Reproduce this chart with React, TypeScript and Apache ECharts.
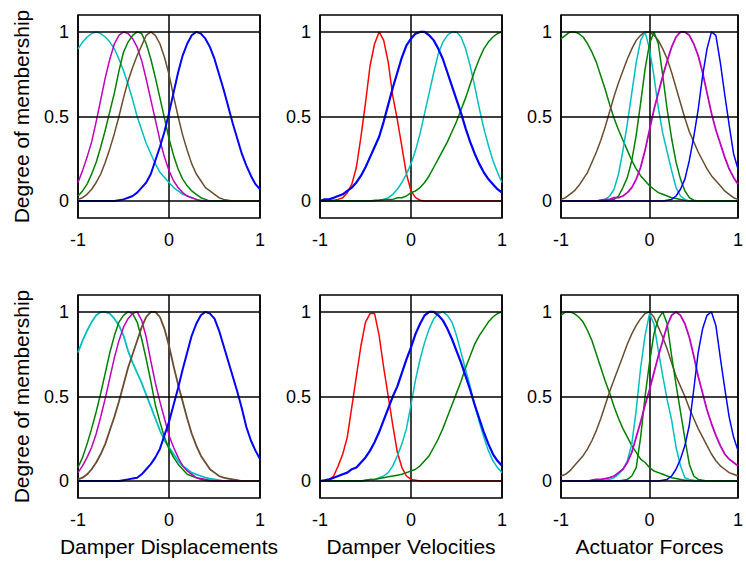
import React, { useEffect, useRef } from "react";
import * as echarts from "echarts";

// x sample points (shared by all curves)
const X = [
  -1, -0.95, -0.9, -0.85, -0.8, -0.75, -0.7, -0.65, -0.6, -0.55,
  -0.5, -0.45, -0.4, -0.35, -0.3, -0.25, -0.2, -0.15, -0.1, -0.05,
  0, 0.05, 0.1, 0.15, 0.2, 0.25, 0.3, 0.35, 0.4, 0.45,
  0.5, 0.55, 0.6, 0.65, 0.7, 0.75, 0.8, 0.85, 0.9, 0.95, 1,
];

const X_TICKS = [-1, 0, 1];
const Y_TICKS = [0, 0.5, 1];
const X_NAMES = ["Damper Displacements", "Damper Velocities", "Actuator Forces"];
const Y_NAME = "Degree of membership";

// ---- Panel 1 (top, Damper Displacements)
const P1_CYAN = [0.90,0.94,0.97,0.99,1.0,0.99,0.97,0.94,0.90,0.84,0.77,0.69,0.60,0.50,0.42,0.34,0.28,0.22,0.17,0.14,0.11,0.08,0.06,0.04,0.03,0.02,0.01,0.005,0,0,0,0,0,0,0,0,0,0,0,0,0];
const P1_MAGENTA = [0.11,0.18,0.26,0.35,0.47,0.60,0.73,0.84,0.93,0.98,1.0,0.99,0.96,0.91,0.83,0.72,0.60,0.48,0.36,0.26,0.18,0.12,0.08,0.05,0.03,0.02,0.01,0,0,0,0,0,0,0,0,0,0,0,0,0,0];
const P1_GREEN = [0.03,0.06,0.10,0.16,0.23,0.32,0.42,0.53,0.64,0.77,0.88,0.94,0.98,1.0,0.99,0.93,0.84,0.73,0.61,0.49,0.37,0.27,0.19,0.13,0.09,0.06,0.04,0.02,0.01,0,0,0,0,0,0,0,0,0,0,0,0];
const P1_BROWN = [0.01,0.02,0.04,0.07,0.11,0.16,0.23,0.31,0.40,0.50,0.61,0.71,0.79,0.86,0.92,0.98,1.0,0.98,0.93,0.85,0.75,0.62,0.50,0.39,0.30,0.22,0.16,0.12,0.08,0.06,0.04,0.02,0.01,0.005,0,0,0,0,0,0,0];
const P1_BLUE = [0,0,0,0,0,0,0,0,0,0.005,0.01,0.02,0.03,0.05,0.08,0.11,0.16,0.24,0.32,0.41,0.52,0.64,0.76,0.86,0.93,0.98,1.0,0.99,0.96,0.91,0.84,0.75,0.66,0.56,0.46,0.37,0.28,0.21,0.15,0.10,0.07];

// ---- Panel 2 (top, Damper Velocities)
const P2_RED = [0,0,0,0.005,0.01,0.02,0.05,0.10,0.20,0.38,0.58,0.80,0.93,1.0,0.95,0.82,0.62,0.48,0.32,0.16,0.06,0.02,0.005,0,0,0,0,0,0,0,0,0,0,0,0,0,0,0,0,0,0];
const P2_BLUE = [0.0,0.01,0.01,0.02,0.03,0.04,0.06,0.08,0.11,0.15,0.20,0.26,0.32,0.38,0.47,0.57,0.67,0.76,0.85,0.92,0.96,0.99,1.0,1.0,0.98,0.95,0.90,0.84,0.76,0.68,0.60,0.52,0.43,0.35,0.28,0.22,0.17,0.13,0.10,0.07,0.05];
const P2_CYAN = [0,0,0,0,0,0,0,0,0,0,0,0,0,0.005,0.01,0.02,0.04,0.07,0.11,0.16,0.22,0.30,0.40,0.52,0.64,0.76,0.87,0.94,0.98,1.0,1.0,0.97,0.90,0.80,0.68,0.55,0.43,0.33,0.24,0.17,0.11];
const P2_GREEN = [0,0,0,0,0,0,0,0,0,0,0,0,0.005,0.005,0.01,0.01,0.01,0.02,0.02,0.03,0.05,0.06,0.08,0.11,0.15,0.20,0.25,0.30,0.35,0.41,0.47,0.54,0.61,0.69,0.77,0.84,0.90,0.94,0.97,0.99,1.0];

// ---- Panel 3 (top, Actuator Forces)
const P3_GREEN_A = [0.96,0.98,1.0,1.0,0.99,0.97,0.93,0.88,0.82,0.74,0.66,0.57,0.49,0.42,0.36,0.30,0.24,0.19,0.15,0.12,0.09,0.07,0.05,0.04,0.03,0.02,0.015,0.01,0.005,0,0,0,0,0,0,0,0,0,0,0,0];
const P3_BROWN = [0.01,0.02,0.04,0.06,0.09,0.13,0.17,0.23,0.29,0.36,0.44,0.53,0.62,0.70,0.77,0.84,0.90,0.95,0.98,1.0,1.0,0.98,0.95,0.90,0.84,0.76,0.67,0.58,0.49,0.41,0.35,0.29,0.24,0.19,0.15,0.12,0.09,0.06,0.04,0.02,0.01];
const P3_CYAN = [0,0,0,0,0,0,0,0,0,0.005,0.01,0.03,0.07,0.16,0.30,0.46,0.64,0.82,0.95,1.0,0.90,0.74,0.55,0.40,0.29,0.18,0.08,0.03,0.01,0,0,0,0,0,0,0,0,0,0,0,0];
const P3_GREEN_B = [0,0,0,0,0,0,0,0,0,0,0,0.005,0.01,0.03,0.08,0.14,0.24,0.39,0.58,0.78,0.93,1.0,0.93,0.74,0.54,0.37,0.23,0.13,0.06,0.02,0.005,0,0,0,0,0,0,0,0,0,0];
const P3_MAGENTA = [0,0,0,0,0,0,0,0,0,0.005,0.01,0.01,0.02,0.02,0.03,0.05,0.08,0.13,0.20,0.30,0.42,0.54,0.64,0.74,0.83,0.91,0.97,1.0,1.0,0.98,0.93,0.86,0.76,0.64,0.52,0.42,0.34,0.26,0.19,0.14,0.10];
const P3_BLUE = [0,0,0,0,0,0,0,0,0,0,0,0,0,0,0,0,0,0,0,0,0,0,0,0,0.005,0.01,0.03,0.07,0.13,0.24,0.38,0.54,0.74,0.90,1.0,0.98,0.82,0.63,0.45,0.28,0.19];

// ---- Panel 4 (bottom, Damper Displacements)
const P4_CYAN = [0.76,0.83,0.89,0.94,0.98,1.0,1.0,0.99,0.96,0.92,0.86,0.77,0.70,0.64,0.58,0.51,0.44,0.37,0.30,0.24,0.20,0.16,0.12,0.09,0.07,0.05,0.04,0.03,0.02,0.015,0.01,0.005,0,0,0,0,0,0,0,0,0];
const P4_GREEN = [0.08,0.14,0.22,0.31,0.41,0.52,0.64,0.76,0.86,0.94,0.98,1.0,0.99,0.94,0.84,0.72,0.59,0.45,0.35,0.26,0.19,0.14,0.10,0.07,0.04,0.03,0.02,0.01,0.005,0,0,0,0,0,0,0,0,0,0,0,0];
const P4_MAGENTA = [0.05,0.09,0.14,0.20,0.28,0.38,0.49,0.61,0.73,0.83,0.91,0.96,0.99,1.0,0.95,0.85,0.71,0.58,0.47,0.37,0.27,0.20,0.14,0.09,0.06,0.04,0.02,0.015,0.01,0.005,0,0,0,0,0,0,0,0,0,0,0];
const P4_BROWN = [0.01,0.02,0.04,0.07,0.11,0.16,0.22,0.30,0.38,0.47,0.57,0.67,0.75,0.83,0.91,0.97,1.0,1.0,0.97,0.90,0.80,0.68,0.57,0.47,0.37,0.28,0.21,0.15,0.11,0.07,0.05,0.03,0.02,0.015,0.01,0.005,0,0,0,0,0];
const P4_BLUE = [0,0,0,0,0,0,0,0,0,0,0.005,0.01,0.015,0.02,0.04,0.07,0.10,0.14,0.19,0.27,0.35,0.45,0.55,0.66,0.76,0.86,0.93,0.98,1.0,0.99,0.96,0.89,0.80,0.71,0.62,0.53,0.43,0.32,0.24,0.18,0.13];

// ---- Panel 5 (bottom, Damper Velocities)
const P5_RED = [0,0,0.005,0.03,0.09,0.16,0.26,0.44,0.62,0.80,0.94,0.99,0.99,0.86,0.67,0.50,0.33,0.17,0.08,0.03,0.01,0.005,0,0,0,0,0,0,0,0,0,0,0,0,0,0,0,0,0,0,0];
const P5_BLUE = [0.0,0.005,0.01,0.02,0.03,0.04,0.05,0.07,0.08,0.11,0.14,0.18,0.23,0.29,0.36,0.43,0.50,0.56,0.64,0.72,0.79,0.87,0.93,0.98,1.0,1.0,0.98,0.95,0.90,0.84,0.77,0.70,0.62,0.54,0.45,0.37,0.29,0.22,0.16,0.12,0.09];
const P5_CYAN = [0,0,0,0,0,0,0,0,0,0,0.005,0.01,0.01,0.02,0.03,0.05,0.09,0.15,0.22,0.31,0.45,0.60,0.72,0.82,0.90,0.96,0.99,1.0,0.98,0.94,0.86,0.76,0.66,0.56,0.45,0.35,0.26,0.18,0.12,0.08,0.05];
const P5_GREEN = [0,0,0,0,0,0,0,0,0,0,0.005,0.01,0.01,0.015,0.02,0.025,0.03,0.035,0.04,0.05,0.06,0.07,0.09,0.12,0.15,0.20,0.25,0.31,0.38,0.45,0.52,0.59,0.67,0.74,0.81,0.86,0.90,0.94,0.97,0.99,1.0];

// ---- Panel 6 (bottom, Actuator Forces)
const P6_GREEN_A = [0.98,1.0,1.0,0.99,0.97,0.94,0.89,0.83,0.75,0.67,0.59,0.52,0.44,0.37,0.31,0.26,0.21,0.17,0.13,0.11,0.08,0.06,0.05,0.04,0.03,0.02,0.015,0.01,0.005,0.005,0,0,0,0,0,0,0,0,0,0,0];
const P6_BROWN = [0.03,0.04,0.06,0.09,0.12,0.15,0.19,0.24,0.30,0.37,0.45,0.53,0.60,0.67,0.74,0.81,0.87,0.92,0.96,0.99,1.0,0.97,0.91,0.85,0.78,0.70,0.62,0.56,0.50,0.43,0.37,0.31,0.26,0.21,0.16,0.12,0.09,0.07,0.05,0.04,0.03];
const P6_CYAN = [0,0,0,0,0,0,0,0,0,0,0.005,0.01,0.02,0.04,0.07,0.12,0.22,0.42,0.67,0.86,0.99,0.93,0.77,0.62,0.48,0.36,0.20,0.09,0.02,0.01,0.005,0,0,0,0,0,0,0,0,0,0];
const P6_GREEN_B = [0,0,0,0,0,0,0,0,0,0,0,0,0,0,0.005,0.01,0.03,0.08,0.26,0.50,0.70,0.87,0.96,1.0,0.93,0.74,0.57,0.41,0.25,0.10,0.03,0.01,0.005,0,0,0,0,0,0,0,0];
const P6_MAGENTA = [0,0,0,0,0,0,0,0.005,0.01,0.01,0.015,0.02,0.03,0.05,0.07,0.11,0.17,0.26,0.35,0.45,0.54,0.64,0.74,0.83,0.92,0.98,1.0,0.98,0.93,0.85,0.74,0.62,0.52,0.42,0.34,0.27,0.21,0.16,0.13,0.11,0.09];
const P6_BLUE = [0,0,0,0,0,0,0,0,0,0,0,0,0,0,0,0,0,0,0,0,0,0,0,0.005,0.01,0.03,0.07,0.13,0.21,0.33,0.54,0.76,0.90,0.98,1.0,0.92,0.73,0.55,0.38,0.26,0.18];

const CYAN = "#00bfbf";
const MAGENTA = "#bf00bf";
const GREEN = "#008000";
const BROWN = "#6b4c2e";
const BLUE = "#0000ff";
const RED = "#ff0000";

type Curve = { data: number[]; color: string; width: number };

const PANELS: Curve[][] = [
  [
    { data: P1_CYAN, color: CYAN, width: 1.5 },
    { data: P1_MAGENTA, color: MAGENTA, width: 1.5 },
    { data: P1_GREEN, color: GREEN, width: 1.5 },
    { data: P1_BROWN, color: BROWN, width: 1.5 },
    { data: P1_BLUE, color: BLUE, width: 2 },
  ],
  [
    { data: P2_RED, color: RED, width: 1.5 },
    { data: P2_CYAN, color: CYAN, width: 1.5 },
    { data: P2_GREEN, color: GREEN, width: 1.5 },
    { data: P2_BLUE, color: BLUE, width: 2.2 },
  ],
  [
    { data: P3_GREEN_A, color: GREEN, width: 1.5 },
    { data: P3_BROWN, color: BROWN, width: 1.5 },
    { data: P3_CYAN, color: CYAN, width: 1.5 },
    { data: P3_GREEN_B, color: GREEN, width: 1.5 },
    { data: P3_MAGENTA, color: MAGENTA, width: 1.8 },
    { data: P3_BLUE, color: BLUE, width: 1.5 },
  ],
  [
    { data: P4_CYAN, color: CYAN, width: 1.8 },
    { data: P4_GREEN, color: GREEN, width: 1.5 },
    { data: P4_MAGENTA, color: MAGENTA, width: 1.5 },
    { data: P4_BROWN, color: BROWN, width: 1.8 },
    { data: P4_BLUE, color: BLUE, width: 2 },
  ],
  [
    { data: P5_RED, color: RED, width: 1.5 },
    { data: P5_CYAN, color: CYAN, width: 1.5 },
    { data: P5_GREEN, color: GREEN, width: 1.5 },
    { data: P5_BLUE, color: BLUE, width: 2.2 },
  ],
  [
    { data: P6_GREEN_A, color: GREEN, width: 1.5 },
    { data: P6_BROWN, color: BROWN, width: 1.5 },
    { data: P6_CYAN, color: CYAN, width: 1.5 },
    { data: P6_GREEN_B, color: GREEN, width: 1.5 },
    { data: P6_MAGENTA, color: MAGENTA, width: 1.8 },
    { data: P6_BLUE, color: BLUE, width: 1.5 },
  ],
];

const FONT = "'Liberation Sans', Arial, sans-serif";
const COL_LEFT = [78, 320, 561];
const COL_WIDTH = [182, 182, 183];
const ROW_TOP = [15, 295];
const PLOT_H = 203;

export default function App() {
  const ref = useRef<HTMLDivElement>(null);

  useEffect(() => {
    if (!ref.current) return;
    const chart = echarts.init(ref.current, undefined, { renderer: "svg" });

    const grids: any[] = [];
    const xAxes: any[] = [];
    const yAxes: any[] = [];
    const series: any[] = [];

    PANELS.forEach((curves, i) => {
      const col = i % 3;
      const row = Math.floor(i / 3);
      grids.push({
        left: COL_LEFT[col],
        top: ROW_TOP[row],
        width: COL_WIDTH[col],
        height: PLOT_H,
        show: true,
        borderColor: "#000",
        borderWidth: 1.5,
        backgroundColor: "#fff",
        containLabel: false,
      });
      xAxes.push({
        gridIndex: i,
        type: "value",
        min: -1,
        max: 1,
        interval: 1,
        axisLine: { show: false },
        axisTick: { show: false },
        splitLine: { show: true, lineStyle: { color: "#000", width: 1.5 } },
        axisLabel: {
          color: "#000",
          fontSize: 18,
          fontFamily: FONT,
          margin: 13,
          showMinLabel: true,
          showMaxLabel: true,
          formatter: (v: number) => {
            const t = X_TICKS.find((k) => Math.abs(k - v) < 1e-6);
            return t === undefined ? "" : String(t);
          },
        },
        name: row === 1 ? X_NAMES[col] : "",
        nameLocation: "middle",
        nameGap: 38,
        nameTextStyle: { color: "#000", fontSize: 21, fontFamily: FONT },
      });
      yAxes.push({
        gridIndex: i,
        type: "value",
        min: -0.1,
        max: 1.1,
        interval: 0.1,
        axisLine: { show: false },
        axisTick: { show: false },
        splitLine: { show: false },
        axisLabel: {
          color: "#000",
          fontSize: 18,
          fontFamily: FONT,
          margin: 9,
          showMinLabel: true,
          showMaxLabel: true,
          formatter: (v: number) => {
            const t = Y_TICKS.find((k) => Math.abs(k - v) < 1e-6);
            return t === undefined ? "" : String(t);
          },
        },
        name: col === 0 ? Y_NAME : "",
        nameLocation: "middle",
        nameGap: 46,
        nameTextStyle: { color: "#000", fontSize: 21, fontFamily: FONT },
      });
      // helper series carrying horizontal grid lines
      series.push({
        type: "line",
        xAxisIndex: i,
        yAxisIndex: i,
        data: [[X[0], Y_TICKS[0]]],
        showSymbol: false,
        lineStyle: { opacity: 0 },
        silent: true,
        z: 1,
        markLine: {
          silent: true,
          symbol: "none",
          label: { show: false },
          lineStyle: { color: "#000", width: 1.5, type: "solid" },
          data: Y_TICKS.map((y) => ({ yAxis: y })),
        },
      });
      curves.forEach((c) => {
        series.push({
          type: "line",
          xAxisIndex: i,
          yAxisIndex: i,
          data: X.map((x, k) => [x, c.data[k]]),
          showSymbol: false,
          symbol: "none",
          silent: true,
          z: 3,
          lineStyle: { color: c.color, width: c.width },
          itemStyle: { color: c.color },
        });
      });
    });

    chart.setOption({
      animation: false,
      backgroundColor: "#fff",
      grid: grids,
      xAxis: xAxes,
      yAxis: yAxes,
      series,
    });

    return () => chart.dispose();
  }, []);

  return (
    <div
      ref={ref}
      style={{ position: "absolute", left: 0, top: 0, width: 746, height: 562 }}
    />
  );
}
